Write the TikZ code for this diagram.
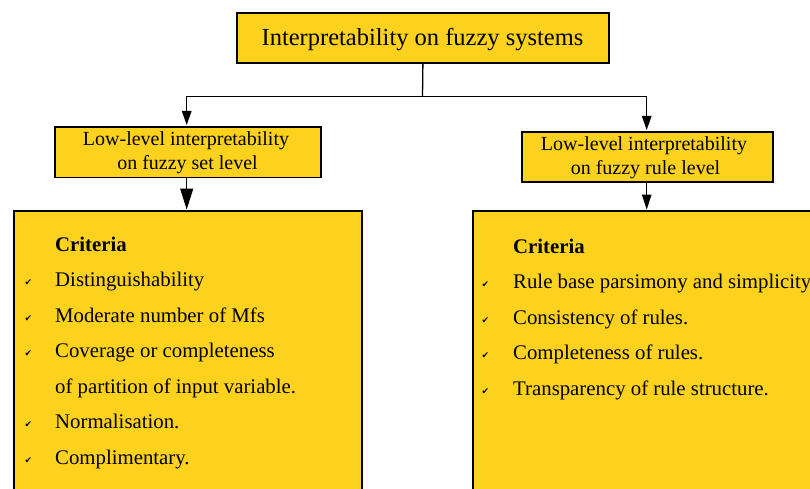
\documentclass[tikz,border=0pt]{standalone}
\usepackage{fontspec}
\setmainfont{Liberation Serif}
\newfontfamily\symfont{DejaVu Sans}
\usetikzlibrary{arrows.meta}
\definecolor{boxyellow}{RGB}{253,210,30}
\tikzset{
  box/.style={draw=black, fill=boxyellow, line width=1.8pt, inner sep=0pt, anchor=north west},
  conn/.style={draw=black, line width=1.3pt},
  smallhead/.style={conn, -{Triangle[length=14pt, width=9.5pt]}},
  bighead/.style={conn, -{Triangle[length=21pt, width=13pt]}},
  midhead/.style={conn, -{Triangle[length=15pt, width=9.5pt]}},
  titletext/.style={anchor=base, inner sep=0pt, font=\fontsize{24.5}{28}\selectfont},
  midtext/.style={anchor=base, inner sep=0pt, font=\fontsize{20}{24}\selectfont},
  itemtext/.style={anchor=base west, inner sep=0pt, font=\fontsize{20.8}{24}\selectfont},
  headtext/.style={itemtext, font=\fontsize{20.8}{24}\selectfont\bfseries},
  tick/.style={anchor=base west, inner sep=0pt, font=\symfont\fontsize{9}{11}\selectfont},
}
\begin{document}
\begin{tikzpicture}[x=1pt, y=-1pt]
\useasboundingbox (0,0) rectangle (810,489);
\clip (0,0) rectangle (810,489);
\fill[white] (0,0) rectangle (810,489);

% boxes
\node[box, minimum width=372pt, minimum height=49.5pt] (top) at (236,12.3) {};
\node[box, minimum width=266pt, minimum height=50.5pt] (setlvl) at (54,126) {};
\node[box, minimum width=251pt, minimum height=50pt] (rulelvl) at (521,131) {};
\node[box, minimum width=348pt, minimum height=300pt] (setcrit) at (13,210) {};
\node[box, minimum width=360pt, minimum height=300pt] (rulecrit) at (472,210) {};

% box titles
\node[titletext] (toptxt) at (422.5,45.7) {Interpretability on fuzzy systems};
\node[midtext] (set1) at (186,145.5) {Low-level interpretability};
\node[midtext] (set2) at (187.5,169.3) {on fuzzy set level};
\node[midtext] (rule1) at (644,150.7) {Low-level interpretability};
\node[midtext] (rule2) at (645.5,174.3) {on fuzzy rule level};

% connectors
\coordinate (split) at (422.5,96.7);
\draw[conn] (top.south) -- (split);
\draw[smallhead] (split) -| (186.7,125);
\draw[smallhead] (split) -| (646.7,130);
\draw[bighead] (186.7,176.7) -- (186.7,209.5);
\draw[midhead] (646.7,181.5) -- (646.7,209.5);

% criteria on fuzzy set level
\node[headtext] (sc0) at (55,251) {Criteria};
\node[itemtext] (sc1) at (55,286.5) {Distinguishability};
\node[itemtext] (sc2) at (55,322) {Moderate number of Mfs};
\node[itemtext] (sc3) at (55,357.5) {Coverage or completeness};
\node[itemtext] (sc3b) at (55,393) {of partition of input variable.};
\node[itemtext] (sc4) at (55,428.5) {Normalisation.};
\node[itemtext] (sc5) at (55,464) {Complimentary.};
\foreach \y/\n in {286.5/1,322/2,357.5/3,428.5/4,464/5}
  \node[tick] (st\n) at (24.5,\y-1) {✔};

% criteria on fuzzy rule level
\node[headtext] (rc0) at (513,253.3) {Criteria};
\node[itemtext] (rc1) at (513,288.6) {Rule base parsimony and simplicity};
\node[itemtext] (rc2) at (513,324) {Consistency of rules.};
\node[itemtext] (rc3) at (513,359.5) {Completeness of rules.};
\node[itemtext] (rc4) at (513,395) {Transparency of rule structure.};
\foreach \y/\n in {288.6/1,324/2,359.5/3,395/4}
  \node[tick] (rt\n) at (481.5,\y-1) {✔};
\end{tikzpicture}
\end{document}
